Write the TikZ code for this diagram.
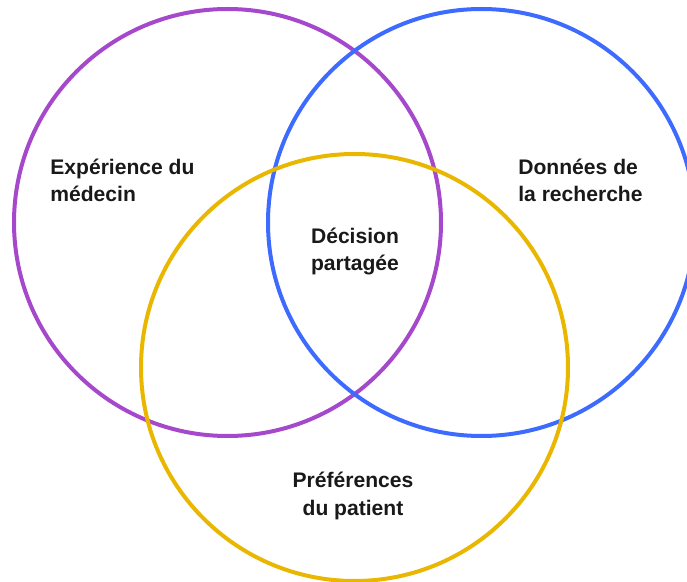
\documentclass[tikz,border=0pt]{standalone}
\usepackage{fontspec}
\setmainfont{Liberation Sans}
\usepackage{tikz}
\usetikzlibrary{calc, positioning}
\usepackage{xcolor}
\definecolor{medecin}{RGB}{166,72,204}
\definecolor{recherche}{RGB}{61,107,255}
\definecolor{patient}{RGB}{234,183,0}

\begin{document}
\begin{tikzpicture}

% TikZ styles
\tikzset{
  ring/.style={circle, draw=#1, line width=0.08cm, minimum size=8.54cm, inner sep=0pt},
  label/.style={font=\fontsize{12}{15.4}\selectfont\bfseries, inner sep=0pt, text=black!90}
}

\useasboundingbox (0,0) rectangle (13.74,-11.64);
\clip (0,0) rectangle (13.74,-11.64);

% Kreise
\node[ring=medecin]   (expcircle)  at (4.55, -4.45) {};
\node[ring=recherche] (datacircle) at (9.63, -4.45) {};
\node[ring=patient]   (prefcircle) at (7.09, -7.35) {};

% Beschriftungen
\node[label, align=left, anchor=base west] (experience) at (1.0, -4.04) {Expérience du\\médecin};
\node[label, align=left, anchor=base west] (donnees) at (10.36, -4.04) {Données de\\la recherche};
\node[label, align=center, anchor=base] (decision) at (7.1, -5.42) {Décision\\partagée};
\node[label, align=center, anchor=base] (preferences) at (7.06, -10.30) {Préférences\\du patient};

\end{tikzpicture}
\end{document}
